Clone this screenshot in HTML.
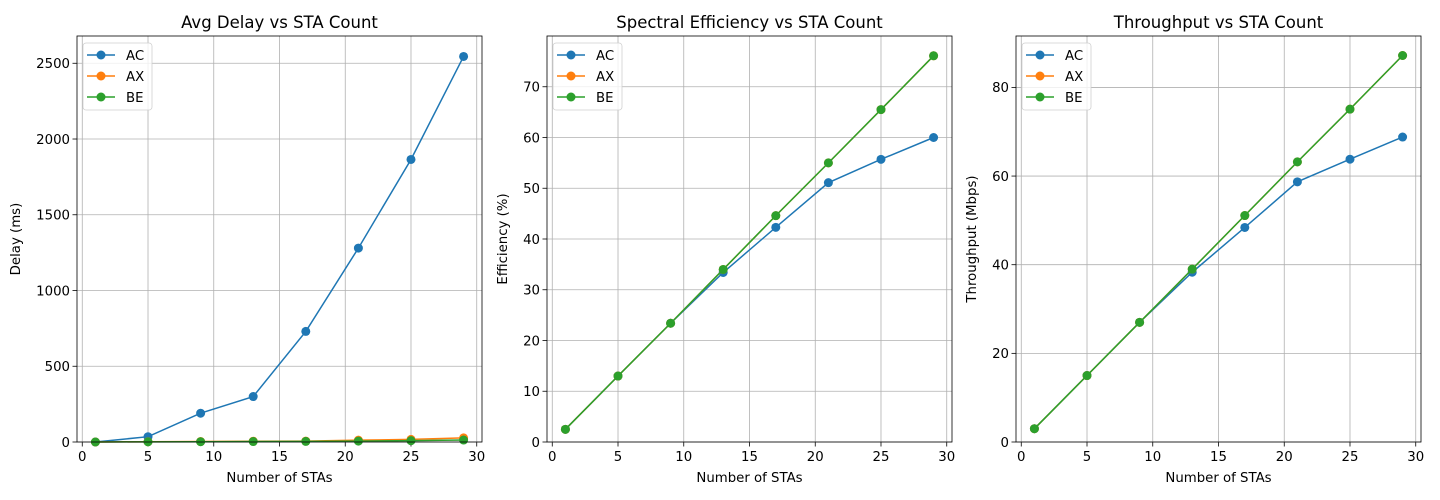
<!DOCTYPE html>
<html><head><meta charset="utf-8"><style>
body{margin:0;background:#fff;}
svg{display:block;font-family:"DejaVu Sans","Liberation Sans",sans-serif;}
</style></head><body>
<svg id="fig" width="1440" height="500" viewBox="0 0 1440 500" xmlns="http://www.w3.org/2000/svg"></svg>
<script>
const xValues = [1, 5, 9, 13, 17, 21, 25, 29];
const seriesNames = ["AC", "AX", "BE"];
const delayAC = [0, 35, 190, 300, 730, 1280, 1865, 2545];
const delayAX = [0, 2, 3, 5, 6, 12, 17, 27];
const delayBE = [0, 1, 2, 3, 4, 6, 9, 13];
const effAC = [2.5, 13, 23.4, 33.4, 42.3, 51.1, 55.7, 60];
const effAX = [2.5, 13, 23.4, 34, 44.6, 55, 65.5, 76.1];
const effBE = [2.5, 13, 23.4, 34, 44.6, 55, 65.5, 76.1];
const thrAC = [3, 15, 27, 38.3, 48.4, 58.7, 63.8, 68.8];
const thrAX = [3, 15, 27, 39, 51.1, 63.2, 75.1, 87.2];
const thrBE = [3, 15, 27, 39, 51.1, 63.2, 75.1, 87.2];
const xTicks = [0, 5, 10, 15, 20, 25, 30];
const delayTicks = [0, 500, 1000, 1500, 2000, 2500];
const effTicks = [0, 10, 20, 30, 40, 50, 60, 70];
const thrTicks = [0, 20, 40, 60, 80];

const colors = ["#1f77b4", "#ff7f0e", "#2ca02c"];
const NS = "http://www.w3.org/2000/svg";
const svg = document.getElementById("fig");
function mk(tag, attrs, parent, text) {
  const e = document.createElementNS(NS, tag);
  for (const k in attrs) e.setAttribute(k, attrs[k]);
  if (text !== undefined) e.textContent = text;
  (parent || svg).appendChild(e);
  return e;
}
const panels = [
  {key:"delay", left:77, title:"Avg Delay vs STA Count", ylabel:"Delay (ms)", ymax:2680, ticks:delayTicks, series:[delayAC, delayAX, delayBE]},
  {key:"efficiency", left:547, title:"Spectral Efficiency vs STA Count", ylabel:"Efficiency (%)", ymax:80, ticks:effTicks, series:[effAC, effAX, effBE]},
  {key:"throughput", left:1016, title:"Throughput vs STA Count", ylabel:"Throughput (Mbps)", ymax:91.6, ticks:thrTicks, series:[thrAC, thrAX, thrBE]}
];
const plotTop = 36, plotBottom = 442, W = 405;
const xmin = -0.4, xmax = 30.4;
panels.forEach(p => {
  const g = mk("g", {});
  
  
  const xs = v => p.left + (v - xmin) / (xmax - xmin) * W;
  const ys = v => plotBottom - v / p.ymax * (plotBottom - plotTop);
  xTicks.forEach(t => {
    const x = xs(t);
    const l = mk("line", {x1:x, x2:x, y1:plotTop, y2:plotBottom, stroke:"#b0b0b0", "stroke-width":0.8}, g);
    
    
    mk("line", {x1:x, x2:x, y1:plotBottom, y2:plotBottom+4.5, stroke:"#000", "stroke-width":0.8}, g);
    const tx = mk("text", {x:x, y:plotBottom+19, "font-size":13.3, "text-anchor":"middle", fill:"#000"}, g, t);
    
    
  });
  p.ticks.forEach(t => {
    const y = ys(t);
    const l = mk("line", {x1:p.left, x2:p.left+W, y1:y, y2:y, stroke:"#b0b0b0", "stroke-width":0.8}, g);
    
    
    mk("line", {x1:p.left-4.5, x2:p.left, y1:y, y2:y, stroke:"#000", "stroke-width":0.8}, g);
    const tx = mk("text", {x:p.left-7, y:y+4.8, "font-size":13.3, "text-anchor":"end", fill:"#000"}, g, t);
    
    
  });
  p.series.forEach((vals, si) => {
    const sg = mk("g", {}, g);
    
    
    const pts = vals.map((v, i) => xs(xValues[i]) + "," + ys(v)).join(" ");
    mk("polyline", {points:pts, fill:"none", stroke:colors[si], "stroke-width":1.5}, sg);
    vals.forEach((v, i) => {
      const c = mk("circle", {cx:xs(xValues[i]), cy:ys(v), r:4.5, fill:colors[si]}, sg);
      
      
    });
  });
  const fr = mk("rect", {x:p.left, y:plotTop, width:W, height:plotBottom-plotTop, fill:"none", stroke:"#000", "stroke-width":0.8}, g);
  
  
  const ti = mk("text", {x:p.left+W/2, y:28, "font-size":16.5, "text-anchor":"middle", fill:"#000"}, g, p.title);
  
  
  const xl = mk("text", {x:p.left+W/2, y:482, "font-size":13.3, "text-anchor":"middle", fill:"#000"}, g, "Number of STAs");
  
  
  const ylx = p.left - (p.key === "delay" ? 57 : 40);
  const cy = (plotTop + plotBottom) / 2;
  const yl = mk("text", {x:ylx, y:cy, "font-size":13.3, "text-anchor":"middle", fill:"#000", transform:`rotate(-90 ${ylx} ${cy})`}, g, p.ylabel);
  
  
  const lg = mk("g", {}, g);
  
  
  mk("rect", {x:p.left+6, y:43, width:69, height:67, rx:3, fill:"#fff", "fill-opacity":0.8, stroke:"#d0d0d0", "stroke-width":0.8}, lg);
  seriesNames.forEach((n, i) => {
    const y = 55 + i * 21;
    const e = mk("g", {}, lg);
    
    
    mk("line", {x1:p.left+10, x2:p.left+38, y1:y, y2:y, stroke:colors[i], "stroke-width":1.5}, e);
    mk("circle", {cx:p.left+24, cy:y, r:4.5, fill:colors[i]}, e);
    mk("text", {x:p.left+49, y:y+4.8, "font-size":13.3, fill:"#000"}, e, n);
  });
});
</script>
</body></html>
